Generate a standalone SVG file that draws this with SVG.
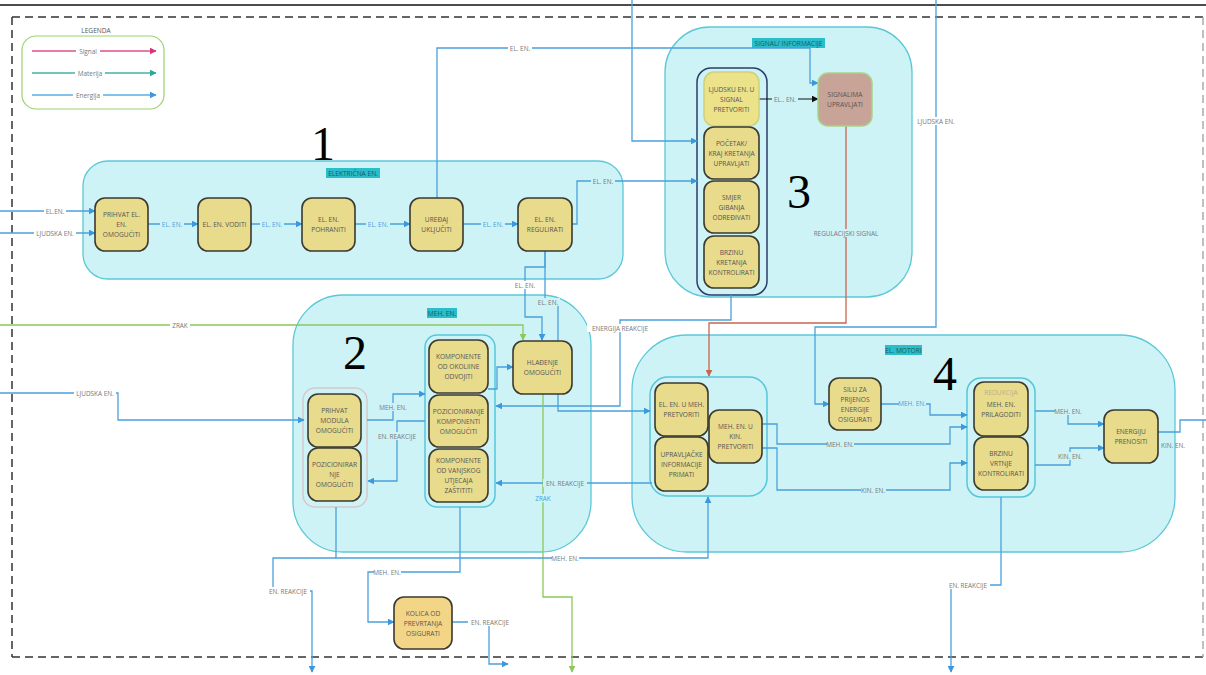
<svg xmlns="http://www.w3.org/2000/svg" width="1206" height="675" viewBox="0 0 1206 675">
<style>
.grp{fill:#cdf3f6;stroke:#5cc8d7;stroke-width:1.3}
.inner{fill:#cdf3f6;stroke:#55c6da;stroke-width:1.5}
.node{fill:#e8db8b;stroke:#3a3a30;stroke-width:1.6}
.nt{font-family:"Open Sans","DejaVu Sans",sans-serif;font-size:6.6px;fill:#555;text-anchor:middle}
.nt.faint{fill:#b9b08a}
.gl{font-family:"Open Sans","DejaVu Sans",sans-serif;font-size:6.6px;fill:#145c66;text-anchor:middle}
.glb{fill:#2bbdc9}
.big{font-family:"Liberation Serif",serif;font-size:48px;fill:#000;text-anchor:middle}
.e{fill:none;stroke:#4aa0dc;stroke-width:1.3}
.g{fill:none;stroke:#8cc85a;stroke-width:1.3}
.r{fill:none;stroke:#c8654f;stroke-width:1.3}
.k{fill:none;stroke:#111;stroke-width:1.2}
.lb{font-family:"Open Sans","DejaVu Sans",sans-serif;font-size:6.4px;fill:#777;text-anchor:middle;dominant-baseline:central}
.lb.blu{fill:#4aa0dc}
.bw{fill:#fff}
.bc{fill:#cdf3f6}
</style>
<defs>
<marker id="ab" viewBox="0 0 10 10" refX="9" refY="5" markerWidth="7" markerHeight="7" markerUnits="userSpaceOnUse" orient="auto"><path d="M0,0L10,5L0,10z" fill="#3a98de"/></marker>
<marker id="ag" viewBox="0 0 10 10" refX="9" refY="5" markerWidth="7" markerHeight="7" markerUnits="userSpaceOnUse" orient="auto"><path d="M0,0L10,5L0,10z" fill="#8cc85a"/></marker>
<marker id="ar" viewBox="0 0 10 10" refX="9" refY="5" markerWidth="7" markerHeight="7" markerUnits="userSpaceOnUse" orient="auto"><path d="M0,0L10,5L0,10z" fill="#c8654f"/></marker>
<marker id="ak" viewBox="0 0 10 10" refX="9" refY="5" markerWidth="7" markerHeight="7" markerUnits="userSpaceOnUse" orient="auto"><path d="M0,0L10,5L0,10z" fill="#111"/></marker>
<marker id="ap" viewBox="0 0 10 10" refX="9" refY="5" markerWidth="7" markerHeight="7" markerUnits="userSpaceOnUse" orient="auto"><path d="M0,0L10,5L0,10z" fill="#d6337a"/></marker>
<marker id="at" viewBox="0 0 10 10" refX="9" refY="5" markerWidth="7" markerHeight="7" markerUnits="userSpaceOnUse" orient="auto"><path d="M0,0L10,5L0,10z" fill="#2ea898"/></marker>
</defs>
<rect width="1206" height="675" fill="#fff"/>
<line x1="0" y1="5" x2="1206" y2="5" stroke="#111" stroke-width="1.5"/>
<g id="boundary" fill="none" stroke-width="1.5" stroke-dasharray="8 5">
<line x1="12" y1="17" x2="1203" y2="17" stroke="#333"/>
<line x1="12" y1="657" x2="1203" y2="657" stroke="#333"/>
<line x1="12" y1="17" x2="12" y2="657" stroke="#333"/>
<line x1="1203" y1="17" x2="1203" y2="657" stroke="#aaa"/>
</g>

<g id="legend">
<rect x="22" y="36" width="142" height="73" rx="14" fill="#fff" stroke="#9fd170" stroke-width="1.2"/>
<text x="96" y="33" class="nt">LEGENDA</text>
<line x1="32" y1="51" x2="156" y2="51" stroke="#e0508a" stroke-width="1.3" marker-end="url(#ap)"/>
<line x1="32" y1="73" x2="156" y2="73" stroke="#45b2a4" stroke-width="1.3" marker-end="url(#at)"/>
<line x1="32" y1="95" x2="156" y2="95" stroke="#5aaee6" stroke-width="1.3" marker-end="url(#ab)"/>
<rect class="bw" x="76" y="47" width="24" height="8"/>
<rect class="bw" x="75" y="69" width="30" height="8"/>
<rect class="bw" x="73" y="91" width="30" height="8"/>
<text x="88" y="51" class="lb">Signal</text>
<text x="90" y="73" class="lb">Materija</text>
<text x="88" y="95" class="lb">Energija</text>
</g>

<g id="group1">
<rect class="grp" x="83" y="161" width="540" height="118" rx="25"/>
<rect class="glb" x="326" y="168" width="54" height="10"/>
<text class="gl" x="353" y="175.5">ELEKTRIČNA EN.</text>
<text class="big" x="323" y="160">1</text>
</g>
<g id="group3">
<rect class="grp" x="665" y="27" width="247" height="270" rx="45"/>
<rect class="glb" x="752" y="38" width="73" height="10"/>
<text class="gl" x="788.5" y="45.5">SIGNAL/ INFORMACIJE</text>
<text class="big" x="799" y="208">3</text>
<rect x="697" y="68" width="70" height="227" rx="14" fill="none" stroke="#2c3c6a" stroke-width="1.5"/>
</g>
<g id="group2">
<rect class="grp" x="293" y="295" width="298" height="257" rx="50"/>
<rect class="glb" x="427" y="308" width="30" height="10"/>
<text class="gl" x="442" y="315.5">MEH. EN.</text>
<text class="big" x="355" y="369">2</text>
<rect x="303" y="388" width="64" height="119" rx="12" fill="#cdf3f6" stroke="#d8c8cc" stroke-width="1.5"/>
<rect class="inner" x="425" y="335" width="70" height="172" rx="12"/>
</g>
<g id="group4">
<rect class="grp" x="632" y="335" width="543" height="217" rx="55"/>
<rect class="glb" x="885" y="345" width="37" height="10"/>
<text class="gl" x="903.5" y="352.5">EL. MOTORI</text>
<text class="big" x="945" y="390">4</text>
<rect class="inner" x="650" y="377" width="117" height="119" rx="18"/>
<rect class="inner" x="967" y="378" width="68" height="119" rx="14"/>
</g>

<g id="connectors">
<path class="e" d="M0,211H95" marker-end="url(#ab)"/>
<path class="e" d="M0,233H95" marker-end="url(#ab)"/>
<path class="e" d="M148,224H198" marker-end="url(#ab)"/>
<path class="e" d="M251,224H302" marker-end="url(#ab)"/>
<path class="e" d="M355,224H410" marker-end="url(#ab)"/>
<path class="e" d="M463,224H518" marker-end="url(#ab)"/>
<path class="e" d="M572,224H577V181H697" marker-end="url(#ab)"/>
<path class="e" d="M437,198V48H810V83H818" marker-end="url(#ab)"/>
<path class="e" d="M632,0V141H697" marker-end="url(#ab)"/>
<path class="e" d="M936,0V327H815V404H829" marker-end="url(#ab)"/>
<path class="k" d="M759,99H818" marker-end="url(#ak)"/>
<path class="r" d="M846,126V323H709V376" marker-end="url(#ar)"/>
<path class="e" d="M545,251V267H525V317H542V340" marker-end="url(#ab)"/>
<path class="e" d="M545,251V302H558V411H650" marker-end="url(#ab)"/>
<path class="e" d="M731,295V320H620V406H496" marker-end="url(#ab)"/>
<path class="g" d="M0,325H523V340" marker-end="url(#ag)"/>
<path class="e" d="M0,393H118V420H304" marker-end="url(#ab)"/>
<path class="e" d="M367,420H393V394H425" marker-end="url(#ab)"/>
<path class="e" d="M425,421H397V481H368" marker-end="url(#ab)"/>
<path class="e" d="M488,389H497V367H513" marker-end="url(#ab)"/>
<path class="g" d="M543,394V597H572V672" marker-end="url(#ag)"/>
<path class="e" d="M652,483H496" marker-end="url(#ab)"/>
<path class="e" d="M336,507V558H708V497" marker-end="url(#ab)"/>
<path class="e" d="M336,558H273V591H312V672" marker-end="url(#ab)"/>
<path class="e" d="M460,507V572H368V622H394" marker-end="url(#ab)"/>
<path class="e" d="M452,622H489V664H508" marker-end="url(#ab)"/>
<path class="e" d="M762,424H777V444H950V427H967" marker-end="url(#ab)"/>
<path class="e" d="M762,448H777V490H950V463H967" marker-end="url(#ab)"/>
<path class="e" d="M880,404H930V415H967" marker-end="url(#ab)"/>
<path class="e" d="M1035,411H1068V424H1104" marker-end="url(#ab)"/>
<path class="e" d="M1035,465H1070V448H1104" marker-end="url(#ab)"/>
<path class="e" d="M1158,432H1180V420H1206"/>
<path class="e" d="M1001,497V585H951V672" marker-end="url(#ab)"/>

<g id="label-backgrounds">
<rect class="bw" x="44" y="207" width="22" height="8"/>
<rect class="bw" x="34" y="229" width="42" height="8"/>
<rect class="bc" x="160" y="220" width="24" height="8"/>
<rect class="bc" x="260" y="220" width="24" height="8"/>
<rect class="bc" x="366" y="220" width="24" height="8"/>
<rect class="bc" x="481" y="220" width="24" height="8"/>
<rect class="bc" x="591" y="177" width="24" height="8"/>
<rect class="bw" x="508" y="44" width="24" height="8"/>
<rect class="bw" x="915" y="117" width="42" height="8"/>
<rect class="bc" x="772" y="95" width="26" height="8"/>
<rect class="bc" x="809" y="229" width="74" height="8"/>
<rect class="bw" x="513" y="281" width="24" height="8"/>
<rect class="bc" x="536" y="298" width="24" height="8"/>
<rect class="bw" x="587" y="324" width="66" height="8"/>
<rect class="bw" x="170" y="321" width="20" height="8"/>
<rect class="bw" x="74" y="389" width="42" height="8"/>
<rect class="bc" x="380" y="403" width="27" height="8"/>
<rect class="bc" x="375" y="432" width="44" height="8"/>
<rect class="bc" x="533" y="494" width="20" height="8"/>
<rect class="bc" x="543" y="479" width="44" height="8"/>
<rect class="bw" x="552" y="554" width="27" height="8"/>
<rect class="bw" x="266" y="587" width="44" height="8"/>
<rect class="bw" x="374" y="568" width="27" height="8"/>
<rect class="bw" x="468" y="618" width="44" height="8"/>
<rect class="bc" x="827" y="440" width="27" height="8"/>
<rect class="bc" x="861" y="486" width="25" height="8"/>
<rect class="bc" x="899" y="399" width="27" height="8"/>
<rect class="bc" x="1055" y="407" width="27" height="8"/>
<rect class="bc" x="1058" y="452" width="25" height="8"/>
<rect class="bw" x="946" y="581" width="44" height="8"/>
</g>

<text class="lb" x="55" y="211">EL.EN.</text>
<text class="lb" x="55" y="233">LJUDSKA EN.</text>
<text class="lb blu" x="172" y="224">EL. EN.</text>
<text class="lb blu" x="272" y="224">EL. EN.</text>
<text class="lb blu" x="378" y="224">EL. EN.</text>
<text class="lb blu" x="493" y="224">EL. EN.</text>
<text class="lb" x="603" y="181">EL. EN.</text>
<text class="lb" x="520" y="48">EL. EN.</text>
<text class="lb" x="936" y="121">LJUDSKA EN.</text>
<text class="lb" x="785" y="99">EL.. EN.</text>
<text class="lb" x="846" y="233">REGULACIJSKI SIGNAL</text>
<text class="lb" x="525" y="285">EL. EN.</text>
<text class="lb" x="548" y="302">EL. EN.</text>
<text class="lb" x="620" y="328">ENERGIJA REAKCIJE</text>
<text class="lb" x="180" y="325">ZRAK</text>
<text class="lb" x="95" y="393">LJUDSKA EN.</text>
<text class="lb" x="393" y="407">MEH. EN.</text>
<text class="lb" x="397" y="436">EN. REAKCIJE</text>
<text class="lb blu" x="543" y="498">ZRAK</text>
<text class="lb" x="565" y="483">EN. REAKCIJE</text>
<text class="lb" x="565" y="558">MEH. EN.</text>
<text class="lb" x="288" y="591">EN. REAKCIJE</text>
<text class="lb" x="387" y="572">MEH. EN.</text>
<text class="lb" x="490" y="622">EN. REAKCIJE</text>
<text class="lb" x="840" y="444">MEH. EN.</text>
<text class="lb" x="873" y="490">KIN. EN.</text>
<text class="lb blu" x="912" y="403">MEH. EN.</text>
<text class="lb" x="1068" y="411">MEH. EN.</text>
<text class="lb" x="1070" y="456">KIN. EN.</text>
<text class="lb" x="1173" y="445">KIN. EN.</text>
<text class="lb" x="968" y="585">EN. REAKCIJE</text>
</g>

<g id="n-prihvat-el"><rect class="node" x="95" y="198" width="53" height="53" rx="10"/><text class="nt" x="121.5" y="217">PRIHVAT EL.</text><text class="nt" x="121.5" y="227">EN.</text><text class="nt" x="121.5" y="237">OMOGUĆITI</text></g>
<g id="n-voditi"><rect class="node" x="198" y="198" width="53" height="53" rx="10"/><text class="nt" x="224.5" y="227">EL. EN. VODITI</text></g>
<g id="n-pohraniti"><rect class="node" x="302" y="198" width="53" height="53" rx="10"/><text class="nt" x="328.5" y="222">EL. EN.</text><text class="nt" x="328.5" y="232">POHRANITI</text></g>
<g id="n-uredaj"><rect class="node" x="410" y="198" width="53" height="53" rx="10"/><text class="nt" x="436.5" y="222">UREĐAJ</text><text class="nt" x="436.5" y="232">UKLJUČITI</text></g>
<g id="n-regulirati"><rect class="node" x="518" y="198" width="54" height="53" rx="10"/><text class="nt" x="545" y="222">EL. EN.</text><text class="nt" x="545" y="232">REGULIRATI</text></g>

<g id="n-ljudsku"><rect x="704" y="72" width="55" height="54" rx="10" fill="#ebe28a" stroke="#cfd07a" stroke-width="1.5"/><text class="nt" x="731.5" y="92">LJUDSKU EN. U</text><text class="nt" x="731.5" y="102">SIGNAL</text><text class="nt" x="731.5" y="112">PRETVORITI</text></g>
<g id="n-pocetak"><rect class="node" x="704" y="127" width="55" height="52" rx="10"/><text class="nt" x="731.5" y="146">POČETAK/</text><text class="nt" x="731.5" y="156">KRAJ KRETANJA</text><text class="nt" x="731.5" y="166">UPRAVLJATI</text></g>
<g id="n-smjer"><rect class="node" x="704" y="181" width="55" height="52" rx="10"/><text class="nt" x="731.5" y="200">SMJER</text><text class="nt" x="731.5" y="210">GIBANJA</text><text class="nt" x="731.5" y="220">ODREĐIVATI</text></g>
<g id="n-brzinu-kret"><rect class="node" x="704" y="236" width="55" height="52" rx="10"/><text class="nt" x="731.5" y="255">BRZINU</text><text class="nt" x="731.5" y="265">KRETANJA</text><text class="nt" x="731.5" y="275">KONTROLIRATI</text></g>
<g id="n-signalima"><rect x="818" y="73" width="54" height="53" rx="10" fill="#c8a397" stroke="#a8d486" stroke-width="1.5"/><text class="nt" x="845" y="97">SIGNALIMA</text><text class="nt" x="845" y="107">UPRAVLJATI</text></g>

<g id="n-okoline"><rect class="node" x="429" y="340" width="59" height="53" rx="10"/><text class="nt" x="458.5" y="359">KOMPONENTE</text><text class="nt" x="458.5" y="369">OD OKOLIINE</text><text class="nt" x="458.5" y="379">ODVOJITI</text></g>
<g id="n-pozicioniranje"><rect class="node" x="429" y="395" width="59" height="52" rx="10"/><text class="nt" x="458.5" y="413.5">POZICIONIRANJE</text><text class="nt" x="458.5" y="423.5">KOMPONENTI</text><text class="nt" x="458.5" y="433.5">OMOGUĆITI</text></g>
<g id="n-vanjskog"><rect class="node" x="429" y="449" width="59" height="53" rx="10"/><text class="nt" x="458.5" y="463">KOMPONENTE</text><text class="nt" x="458.5" y="473">OD VANJSKOG</text><text class="nt" x="458.5" y="483">UTJECAJA</text><text class="nt" x="458.5" y="493">ZAŠTITITI</text></g>
<g id="n-hladenje"><rect class="node" x="513" y="341" width="59" height="53" rx="10"/><text class="nt" x="542.5" y="365">HLAĐENJE</text><text class="nt" x="542.5" y="375">OMOGUĆITI</text></g>
<g id="n-prihvat-modula"><rect class="node" x="308" y="394" width="53" height="53" rx="10"/><text class="nt" x="334.5" y="413">PRIHVAT</text><text class="nt" x="334.5" y="423">MODULA</text><text class="nt" x="334.5" y="433">OMOGUĆITI</text></g>
<g id="n-pozicionirar"><rect class="node" x="308" y="448" width="53" height="53" rx="10"/><text class="nt" x="334.5" y="467">POZICIONIRAR</text><text class="nt" x="334.5" y="477">NJE</text><text class="nt" x="334.5" y="487">OMOGUĆITI</text></g>
<g id="n-kolica"><rect x="394" y="597" width="58" height="52" rx="10" fill="#f3d587" stroke="#3a3a30" stroke-width="1.6"/><text class="nt" x="423" y="615.5">KOLICA OD</text><text class="nt" x="423" y="625.5">PREVRTANJA</text><text class="nt" x="423" y="635.5">OSIGURATI</text></g>

<g id="n-el-meh"><rect class="node" x="655" y="383" width="53" height="53" rx="10"/><text class="nt" x="681.5" y="407">EL. EN. U MEH.</text><text class="nt" x="681.5" y="417">PRETVORITI</text></g>
<g id="n-upravljacke"><rect class="node" x="655" y="437" width="53" height="54" rx="10"/><text class="nt" x="681.5" y="456.5">UPRAVLJAČKE</text><text class="nt" x="681.5" y="466.5">INFORMACIJE</text><text class="nt" x="681.5" y="476.5">PRIMATI</text></g>
<g id="n-meh-kin"><rect class="node" x="709" y="410" width="53" height="53" rx="10"/><text class="nt" x="735.5" y="429">MEH. EN. U</text><text class="nt" x="735.5" y="439">KIN.</text><text class="nt" x="735.5" y="449">PRETVORITI</text></g>
<g id="n-silu"><rect class="node" x="829" y="378" width="52" height="52" rx="10"/><text class="nt" x="855" y="391.5">SILU ZA</text><text class="nt" x="855" y="401.5">PRIJENOS</text><text class="nt" x="855" y="411.5">ENERGIJE</text><text class="nt" x="855" y="421.5">OSIGURATI</text></g>
<g id="n-prilagoditi"><rect class="node" x="974" y="382" width="54" height="54" rx="10"/><text class="nt faint" x="1001" y="395">REDUKCIJA</text><text class="nt" x="1001" y="407">MEH. EN.</text><text class="nt" x="1001" y="417">PRILAGODITI</text></g>
<g id="n-brzinu-vrtnje"><rect class="node" x="974" y="437" width="54" height="53" rx="10"/><text class="nt" x="1001" y="456">BRZINU</text><text class="nt" x="1001" y="466">VRTNJE</text><text class="nt" x="1001" y="476">KONTROLIRATI</text></g>
<g id="n-energiju"><rect class="node" x="1104" y="410" width="54" height="53" rx="10"/><text class="nt" x="1131" y="434">ENERGIJU</text><text class="nt" x="1131" y="444">PRENOSITI</text></g>
</svg>
